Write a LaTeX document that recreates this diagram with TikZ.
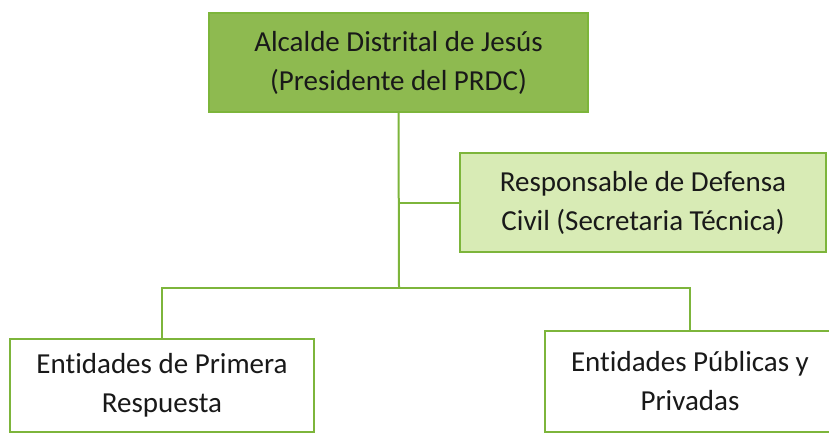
\documentclass[tikz,border=0pt]{standalone}
\usepackage{fontspec}
\setmainfont[Ligatures=NoCommon]{Carlito}
\usetikzlibrary{positioning}
\definecolor{hojaverde}{HTML}{8EBA50}
\definecolor{hojaclara}{HTML}{D8EBB5}
\definecolor{lineaverde}{HTML}{7DB53B}

\begin{document}
\begin{tikzpicture}[x=0.5pt, y=-0.5pt,
	cargo/.style={draw=lineaverde, line width=1pt, align=center, inner sep=0pt,
		font=\fontsize{14.5}{19.5}\selectfont, text=black!90},
	enlace/.style={draw=lineaverde, line width=1pt}]
	\useasboundingbox (0, 0) rectangle (829, 433);
	\node[cargo, fill=hojaverde, minimum width=189.5pt, minimum height=49.5pt] (alcalde) at (398.5, 62.5)
		{Alcalde Distrital de Jesús\\(Presidente del PRDC)};
	\node[cargo, fill=hojaclara, minimum width=183pt, minimum height=49.5pt] (responsable) at (643, 202.5)
		{Responsable de Defensa\\Civil (Secretaria Técnica)};
	\node[cargo, fill=white, minimum width=152pt, minimum height=46.5pt] (primera) at (162, 385.5)
		{Entidades de Primera\\Respuesta};
	\node[cargo, fill=white, minimum width=145pt, minimum height=50.5pt] (publicas) at (690, 381.5)
		{Entidades Públicas y\\Privadas};
	\coordinate (lado) at (399, 202.5);
	\coordinate (reparto) at (399, 288);
	\draw[enlace] (alcalde.south) -- (reparto);
	\draw[enlace] (lado) -- (responsable.west);
	\draw[enlace] (primera.north) |- (reparto) -| (publicas.north);
\end{tikzpicture}
\end{document}
